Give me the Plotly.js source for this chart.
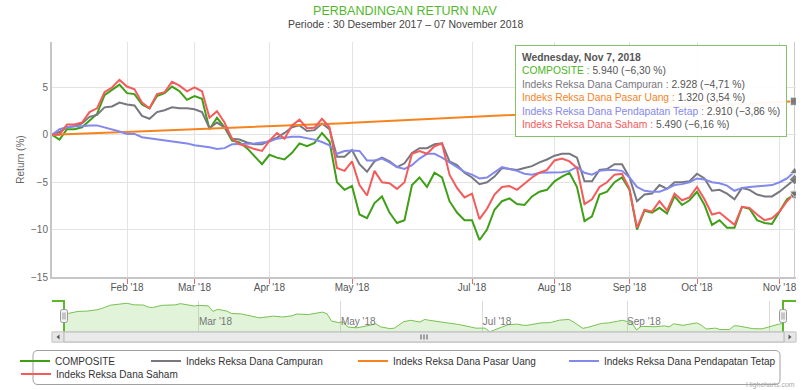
<!DOCTYPE html>
<html><head><meta charset="utf-8">
<script src="https://cdn.plot.ly/plotly-3.0.1.min.js"></script>
<style>html,body{margin:0;padding:0;background:#fff}#chart{width:810px;height:390px}</style>
</head><body><div id="chart"></div>
<script>
// ---- data ----
const dates = [
 '2018-01-02','2018-01-04','2018-01-08','2018-01-10','2018-01-12','2018-01-16','2018-01-18','2018-01-22','2018-01-25','2018-01-29',
 '2018-02-01','2018-02-05','2018-02-07','2018-02-09','2018-02-13','2018-02-19','2018-02-21','2018-02-23','2018-02-27',
 '2018-03-01','2018-03-05','2018-03-07','2018-03-09','2018-03-13','2018-03-15','2018-03-19','2018-03-21','2018-03-23','2018-03-27',
 '2018-04-02','2018-04-04','2018-04-06','2018-04-10','2018-04-12','2018-04-17','2018-04-19','2018-04-23','2018-04-25','2018-04-27','2018-04-30',
 '2018-05-02','2018-05-04','2018-05-08','2018-05-14','2018-05-16','2018-05-18','2018-05-22','2018-05-24','2018-05-28','2018-05-31','2018-06-04','2018-06-06','2018-06-08','2018-06-21','2018-06-25','2018-06-28',
 '2018-07-02','2018-07-04','2018-07-06','2018-07-10','2018-07-12','2018-07-16','2018-07-18','2018-07-20','2018-07-24','2018-07-26','2018-07-30',
 '2018-08-01','2018-08-03','2018-08-07','2018-08-09','2018-08-13','2018-08-15','2018-08-21','2018-08-24','2018-08-28','2018-08-30',
 '2018-09-03','2018-09-05','2018-09-07','2018-09-13','2018-09-17','2018-09-19','2018-09-21','2018-09-25','2018-09-27',
 '2018-10-01','2018-10-03','2018-10-05','2018-10-09','2018-10-11','2018-10-15','2018-10-17','2018-10-19','2018-10-23','2018-10-25','2018-10-29',
 '2018-11-01','2018-11-05','2018-11-07'
];
const composite = [
 0.0,-0.5,0.6,0.6,0.8,1.5,2.2,4.2,4.8,5.3,
 4.4,4.3,3.2,2.8,4.1,4.4,5.1,4.6,3.7,4.1,
 3.8,0.6,1.8,0.8,-0.6,-0.8,-1.4,-2.2,-3.1,-2.1,
 -2.4,-2.6,-1.9,-0.9,-1.2,-0.85,0.2,-0.7,-5.0,-5.8,
 -5.4,-8.4,-8.8,-7.2,-6.5,-8.2,-9.3,-9.0,-5.3,-4.5,
 -5.5,-4.0,-4.5,-7.0,-8.2,-9.0,-9.0,-11.1,-10.0,-7.9,
 -7.0,-6.7,-7.3,-7.4,-6.5,-6.0,-5.8,-4.9,-4.4,-4.0,
 -5.5,-9.1,-8.6,-6.3,-6.0,-5.0,-4.5,-5.8,-10.0,-8.0,
 -8.2,-7.7,-8.3,-6.5,-7.4,-6.9,-6.0,-7.4,-9.5,-9.0,
 -9.8,-9.8,-7.6,-7.8,-9.0,-9.3,-9.4,-8.1,-6.8,-6.30
];
const campuran = [
 0.0,0.3,0.8,0.9,1.2,1.9,2.1,2.9,3.0,3.4,
 3.2,3.1,2.0,1.7,2.4,2.6,2.9,2.8,2.8,2.7,
 2.4,0.7,1.3,0.8,-0.4,-0.5,-0.8,-1.0,-1.0,-0.6,
 -0.3,0.2,0.8,1.0,0.4,0.5,1.2,0.6,-2.3,-2.3,
 -1.6,-3.1,-3.9,-2.8,-2.4,-2.8,-3.4,-3.0,-1.9,-1.4,
 -1.4,-1.0,-0.9,-2.8,-3.2,-4.0,-4.5,-5.2,-5.0,-4.4,
 -3.5,-3.6,-3.7,-3.5,-3.3,-2.9,-2.6,-2.2,-2.0,-2.0,
 -2.4,-4.9,-4.9,-3.7,-3.6,-3.1,-3.1,-4.5,-7.0,-6.3,
 -6.2,-5.3,-5.7,-5.0,-5.0,-4.9,-4.1,-4.6,-5.9,-5.8,
 -6.2,-6.8,-5.6,-5.8,-6.3,-6.5,-6.5,-6.0,-5.4,-4.71
];
const pasarUang = [
 0.00,0.04,0.07,0.10,0.13,0.16,0.19,0.22,0.25,0.28,
 0.31,0.34,0.36,0.39,0.42,0.45,0.48,0.51,0.54,0.57,
 0.60,0.63,0.66,0.69,0.72,0.75,0.78,0.81,0.85,0.88,
 0.91,0.94,0.97,1.00,1.03,1.07,1.11,1.15,1.19,1.23,
 1.27,1.31,1.35,1.38,1.42,1.46,1.50,1.54,1.58,1.61,
 1.65,1.69,1.73,1.77,1.81,1.84,1.88,1.92,1.96,2.00,
 2.04,2.08,2.12,2.15,2.19,2.23,2.27,2.31,2.35,2.39,
 2.42,2.46,2.50,2.54,2.58,2.62,2.66,2.70,2.74,2.78,
 2.82,2.86,2.89,2.93,2.97,3.01,3.05,3.09,3.13,3.17,
 3.21,3.25,3.29,3.33,3.37,3.40,3.44,3.47,3.51,3.54
];
const pendapatanTetap = [
 0.0,0.6,0.8,0.9,0.9,1.0,1.0,0.8,0.6,0.35,
 0.1,0.1,-0.25,-0.35,-0.45,-0.55,-0.7,-0.8,-0.9,-1.1,
 -1.2,-1.3,-1.5,-1.4,-1.0,-1.0,-0.95,-0.9,-0.8,-0.7,
 -0.4,-0.3,-0.2,-0.2,-0.35,-0.5,-0.75,-1.1,-2.0,-1.7,
 -1.65,-1.7,-2.7,-2.7,-2.5,-2.9,-3.4,-3.6,-3.2,-2.5,
 -2.0,-2.0,-2.4,-2.9,-3.4,-3.9,-4.2,-4.6,-4.5,-3.9,
 -3.4,-3.6,-3.8,-4.1,-4.2,-4.0,-4.0,-4.0,-3.95,-3.8,
 -3.4,-4.0,-4.2,-3.8,-3.7,-3.7,-3.8,-4.5,-5.5,-5.9,
 -6.0,-6.0,-5.7,-5.3,-5.2,-5.0,-4.6,-4.7,-5.0,-5.1,
 -5.35,-5.9,-5.6,-5.5,-5.45,-5.4,-5.3,-5.0,-4.6,-3.86
];
const saham = [
 0.0,0.0,1.1,1.1,1.3,2.4,2.8,4.5,5.0,5.8,
 5.1,4.8,3.4,2.8,4.3,4.5,5.6,5.2,4.6,5.0,
 4.6,1.8,2.5,1.3,-0.4,-1.0,-1.2,-1.5,-1.7,-0.6,
 0.2,-0.4,1.0,1.6,0.7,0.75,1.7,0.8,-3.5,-3.8,
 -2.8,-5.3,-6.4,-3.8,-5.0,-5.1,-5.7,-5.0,-2.0,-1.7,
 -2.0,-1.2,-0.9,-4.2,-5.6,-6.6,-6.2,-8.9,-7.8,-6.3,
 -5.5,-5.4,-5.8,-5.1,-4.5,-4.0,-3.7,-2.7,-2.5,-2.8,
 -3.5,-7.3,-6.8,-5.5,-5.0,-4.2,-4.1,-5.7,-9.8,-7.9,
 -8.1,-7.0,-8.0,-6.2,-6.9,-6.6,-5.5,-6.8,-8.4,-8.2,
 -8.8,-9.5,-7.6,-7.7,-8.4,-9.0,-8.8,-8.1,-7.0,-6.16
];
const seriesNames = ['COMPOSITE','Indeks Reksa Dana Campuran','Indeks Reksa Dana Pasar Uang','Indeks Reksa Dana Pendapatan Tetap','Indeks Reksa Dana Saham'];
const navValues = ['5.940','2.928','1.320','2.910','5.490'];
const tooltipDate = 'Wednesday, Nov 7, 2018';
const monthTickDates = ['2018-02-01','2018-03-01','2018-04-02','2018-05-02','2018-07-02','2018-08-01','2018-09-03','2018-10-01','2018-11-01'];
const monthTickLabels = ["Feb '18","Mar '18","Apr '18","May '18","Jul '18","Aug '18","Sep '18","Oct '18","Nov '18"];
const navTickDates = ['2018-03-01','2018-05-01','2018-07-01','2018-09-01','2018-11-01'];
const navTickLabels = ["Mar '18","May '18","Jul '18","Sep '18","Nov '18"];
const yTicks = [-15,-10,-5,0,5];

// ---- styling ----
const allSeries = [composite, campuran, pasarUang, pendapatanTetap, saham];
const colors = ['#3f9f16','#77777f','#f5841f','#8389ec','#f45b5b'];
const tipColors = ['#4bb51d','#77777f','#f5841f','#8389ec','#f45b5b'];
const endSymbols = ['circle','diamond','square','triangle-up','triangle-down'];
const legendIds = ['legend','legend2','legend3','legend4','legend5'];
const FONT = '"Liberation Sans", Arial, sans-serif';
const PL = 52, PW = 744, PB = 342, PH = 300;
const X = px => (px - PL) / PW;
const Y = py => (PB - py) / PH;
const NAV_FLOOR = -11.8;

const traces = [];
allSeries.forEach((s, i) => {
  traces.push({
    type:'scatter', mode:'lines', x:dates, y:s, name:seriesNames[i],
    line:{color:colors[i], width:2}, xaxis:'x', yaxis:'y',
    legend:legendIds[i], hoverinfo:'skip'
  });
});
const last = dates.length - 1;
traces.push({
  type:'scatter', mode:'markers', x:allSeries.map(() => dates[last]),
  y:allSeries.map(s => s[last]), showlegend:false, hoverinfo:'skip',
  marker:{symbol:endSymbols, size:8, color:'rgba(110,110,110,0.85)', line:{color:'rgba(255,255,255,0.6)', width:1}},
  xaxis:'x', yaxis:'y'
});
// navigator
traces.push({
  type:'scatter', mode:'lines', x:dates, y:dates.map(() => NAV_FLOOR),
  line:{width:0, color:'rgba(0,0,0,0)'}, showlegend:false, hoverinfo:'skip', xaxis:'x2', yaxis:'y2'
});
traces.push({
  type:'scatter', mode:'lines', x:dates, y:composite, fill:'tonexty',
  fillcolor:'rgba(120,200,80,0.22)', line:{color:'#79c152', width:1},
  showlegend:false, hoverinfo:'skip', xaxis:'x2', yaxis:'y2'
});

// tooltip text
const fmt = v => (v < 0 ? '\u2212' : '') + Math.abs(v).toFixed(2).replace('.', ',');
const tipLines = ['<b>' + tooltipDate + '</b>'].concat(seriesNames.map((n, i) =>
  '<span style="color:' + tipColors[i] + '">' + n + ' :</span> ' + navValues[i] + ' (' + fmt(allSeries[i][last]) + ' %)'));

const roundRect = (x0, y0, x1, y1, r) => {
  const rx = r / PW, ry = r / PH;
  const a = X(x0), b = X(x1), t = Y(y0), u = Y(y1);
  return `M${a+rx},${t} L${b-rx},${t} Q${b},${t} ${b},${t-ry} L${b},${u+ry} Q${b},${u} ${b-rx},${u} L${a+rx},${u} Q${a},${u} ${a},${u+ry} L${a},${t-ry} Q${a},${t} ${a+rx},${t} Z`;
};
const rect = (x0, y0, x1, y1, fill, line) => ({type:'rect', xref:'paper', yref:'paper', x0:X(x0), x1:X(x1), y0:Y(y1), y1:Y(y0), fillcolor:fill, line:{color:line, width:1}, layer:'above'});
const seg = (x0, y0, x1, y1, color, w) => ({type:'line', xref:'paper', yref:'paper', x0:X(x0), x1:X(x1), y0:Y(y0), y1:Y(y1), line:{color:color, width:w}, layer:'above'});

const shapes = [
  {type:'line', xref:'x', yref:'paper', x0:last, x1:last, y0:Y(277), y1:1, line:{color:'#cccccc', width:1}, layer:'below'},
  {type:'path', xref:'paper', yref:'paper', path:`M${X(52)},${Y(301)} L${X(64)},${Y(301)} L${X(64)},${Y(333)}`, line:{color:'#5cb82a', width:2}, layer:'above'},
  {type:'path', xref:'paper', yref:'paper', path:`M${X(783)},${Y(333)} L${X(783)},${Y(301)} L${X(796)},${Y(301)}`, line:{color:'#5cb82a', width:2}, layer:'above'},
  rect(52, 332, 796, 342, '#f2f2f2', '#cccccc'),
  rect(52, 332, 64, 342, '#e6e6e6', '#cccccc'),
  rect(784, 332, 796, 342, '#e6e6e6', '#cccccc'),
  rect(64, 332, 784, 342, '#eaeaea', '#b8b8b8'),
  {type:'path', xref:'paper', yref:'paper', path:`M${X(56.5)},${Y(337)} L${X(59.5)},${Y(334.5)} L${X(59.5)},${Y(339.5)} Z`, fillcolor:'#555', line:{width:0}, layer:'above'},
  {type:'path', xref:'paper', yref:'paper', path:`M${X(791.5)},${Y(337)} L${X(788.5)},${Y(334.5)} L${X(788.5)},${Y(339.5)} Z`, fillcolor:'#555', line:{width:0}, layer:'above'},
  seg(421, 334.5, 421, 339.5, '#555', 1), seg(424, 334.5, 424, 339.5, '#555', 1), seg(427, 334.5, 427, 339.5, '#555', 1),
  {type:'path', xref:'paper', yref:'paper', path:roundRect(60.5, 309.5, 67.5, 322.5, 2), fillcolor:'#f2f2f2', line:{color:'#999', width:1}, layer:'above'},
  seg(63, 312.5, 63, 319.5, '#999', 1), seg(65, 312.5, 65, 319.5, '#999', 1),
  {type:'path', xref:'paper', yref:'paper', path:roundRect(779.5, 309.5, 786.5, 322.5, 2), fillcolor:'#f2f2f2', line:{color:'#999', width:1}, layer:'above'},
  seg(782, 312.5, 782, 319.5, '#999', 1), seg(784, 312.5, 784, 319.5, '#999', 1),
  {type:'path', xref:'paper', yref:'paper', path:roundRect(33, 350.5, 780, 384.5, 5), fillcolor:'rgba(0,0,0,0)', line:{color:'#a0a0a0', width:1}, layer:'above'}
];

const legendPos = [[15, 361], [146, 361], [353, 361], [564, 361], [16, 374]];
const layout = {
  width:810, height:390,
  margin:{l:PL, r:810 - PL - PW, t:PB - PH, b:390 - PB, pad:0, autoexpand:false},
  paper_bgcolor:'#ffffff', plot_bgcolor:'rgba(0,0,0,0)',
  font:{family:FONT, size:10, color:'#555'},
  title:{text:'PERBANDINGAN RETURN NAV', font:{family:FONT, size:12.5, color:'#52b82b'},
         x:0.5, xref:'container', xanchor:'center', y:1 - 11/390, yref:'container', yanchor:'middle', automargin:false},
  showlegend:true,
  xaxis:{type:'category', domain:[0,1], range:[0, PW/7.5], anchor:'y',
         tickmode:'array', tickvals:monthTickDates, ticktext:monthTickLabels,
         ticks:'outside', ticklen:5, tickwidth:1, tickcolor:'#e07070', ticklabelstandoff:-5,
         showgrid:true, gridcolor:'#e3e3e3', gridwidth:1, zeroline:false,
         showline:true, linecolor:'#c6c6c6', linewidth:2,
         tickfont:{family:FONT, size:10, color:'#555'}, automargin:false, fixedrange:true},
  yaxis:{domain:[Y(277), 1], range:[-15, 9.8], anchor:'x',
         tickmode:'array', tickvals:yTicks, ticks:'', showgrid:true, gridcolor:'#e3e3e3', zeroline:false,
         showline:true, linecolor:'#c6c6c6', linewidth:2,
         tickfont:{family:FONT, size:10, color:'#666'},
         title:{text:'Return (%)', font:{family:FONT, size:10, color:'#666'}, standoff:5},
         automargin:false, fixedrange:true},
  xaxis2:{type:'date', domain:[X(64), X(783)], anchor:'y2', range:[dates[0], dates[last]],
          tickmode:'array', tickvals:navTickDates, ticktext:navTickLabels,
          ticklabelposition:'inside right', ticks:'', showgrid:true, gridcolor:'#dadada',
          showline:false, zeroline:false, tickfont:{family:FONT, size:10, color:'#777'},
          automargin:false, fixedrange:true},
  yaxis2:{domain:[Y(333), Y(301)], anchor:'x2', range:[NAV_FLOOR, 6.6], visible:false, fixedrange:true},
  shapes:shapes,
  annotations:[
    {xref:'paper', yref:'paper', x:X(405), y:Y(24), xanchor:'center', yanchor:'middle', showarrow:false,
     text:'Periode : 30 Desember 2017 \u2013 07 November 2018', font:{family:FONT, size:10.5, color:'#444'}},
    {xref:'paper', yref:'paper', x:X(515), y:Y(45), xanchor:'left', yanchor:'top', showarrow:false, align:'left',
     text:tipLines.join('<br>'), font:{family:FONT, size:10.3, color:'#555'},
     bgcolor:'rgba(255,255,255,0.93)', bordercolor:'#86c06a', borderwidth:1, borderpad:6},
    {xref:'paper', yref:'paper', x:X(796), y:Y(390), xanchor:'right', yanchor:'bottom', showarrow:false,
     text:'Highcharts.com', font:{family:FONT, size:7, color:'#aaa'}, borderpad:0}
  ]
};
legendIds.forEach((id, i) => {
  layout[id] = {x:X(legendPos[i][0]), y:Y(legendPos[i][1]), xanchor:'left', yanchor:'middle',
    orientation:'h', bgcolor:'rgba(0,0,0,0)', borderwidth:0,
    font:{family:FONT, size:10, color:'#333'}};
});

Plotly.newPlot('chart', traces, layout, {displayModeBar:false, staticPlot:true});
</script></body></html>
